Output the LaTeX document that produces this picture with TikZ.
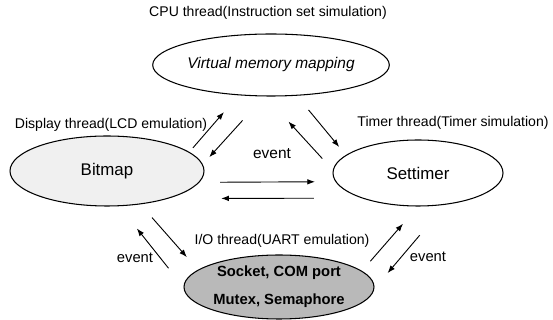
\documentclass[tikz,border=0pt]{standalone}
\usepackage{fontspec}
\setmainfont{Liberation Sans}
\usetikzlibrary{arrows.meta,shapes.geometric}

\begin{document}
\begin{tikzpicture}[
  thread/.style={ellipse, draw, line width=0.75pt, inner sep=0pt},
  lab/.style={font=\fontsize{10}{12}\selectfont},
  evt/.style={font=\fontsize{10.5}{12}\selectfont},
  arr/.style={-{Latex[length=5.5pt,width=4pt]}, line width=0.65pt}
]
  \useasboundingbox (0,0) rectangle (13.825,8);

  % 线程标签
  \node[lab] (cpulab) at (6.7,7.675) {CPU thread(Instruction set simulation)};
  \node[lab] (displab) at (2.775,4.875) {Display thread(LCD emulation)};
  \node[lab] (timerlab) at (11.325,4.925) {Timer thread(Timer simulation)};
  \node[lab] (iolab) at (7.05,1.975) {I/O thread(UART emulation)};

  % 椭圆
  \node[thread, minimum width=4.9cm, minimum height=1.55cm,
        font=\itshape\fontsize{11}{13}\selectfont] (vmm) at (6.775,6.375) {Virtual memory mapping};
  \node[thread, fill=gray!12, minimum width=4.85cm, minimum height=1.75cm,
        font=\fontsize{12}{14}\selectfont] (bitmap) at (2.675,3.725) {Bitmap};
  \node[thread, minimum width=4.25cm, minimum height=1.65cm,
        font=\fontsize{12}{14}\selectfont] (settimer) at (10.45,3.675) {Settimer};
  \node[thread, fill=gray!55, minimum width=4.75cm, minimum height=1.6cm, align=center,
        font=\bfseries\fontsize{10.5}{20}\selectfont] (io) at (6.975,0.825) {Socket, COM port\\Mutex, Semaphore};

  % event
  \node[evt, font=\fontsize{11}{13}\selectfont] (evmid) at (6.8,4.15) {event};
  \node[evt] (evleft) at (3.375,1.55) {event};
  \node[evt] (evright) at (10.7,1.575) {event};

  % 箭头
  \draw[arr, shorten <=0.135cm, shorten >=0.555cm] (bitmap.13) -- (vmm.223);
  \draw[arr, shorten <=0.81cm, shorten >=0.24cm] (vmm.258) -- (bitmap.4);
  \draw[arr, shorten <=0.39cm, shorten >=0.85cm] (settimer.178) -- (vmm.260);
  \draw[arr, shorten <=0.46cm, shorten >=0.26cm] (vmm.310) -- (settimer.166);
  \draw[arr, shorten <=0.52cm, shorten >=0.51cm] (bitmap.353) -- (settimer.186);
  \draw[arr, shorten <=1.19cm, shorten >=1.31cm] (settimer.204) -- (bitmap.336);
  \draw[arr, shorten <=0.44cm, shorten >=0.42cm] (bitmap.315) -- (io.168);
  \draw[arr, shorten <=0.60cm, shorten >=0.71cm] (io.180) -- (bitmap.289);
  \draw[arr, shorten <=0.32cm, shorten >=0.57cm] (io.11) -- (settimer.270);
  \draw[arr, shorten <=1.0cm, shorten >=0.51cm] (settimer.311) -- (io.359);
\end{tikzpicture}
\end{document}
